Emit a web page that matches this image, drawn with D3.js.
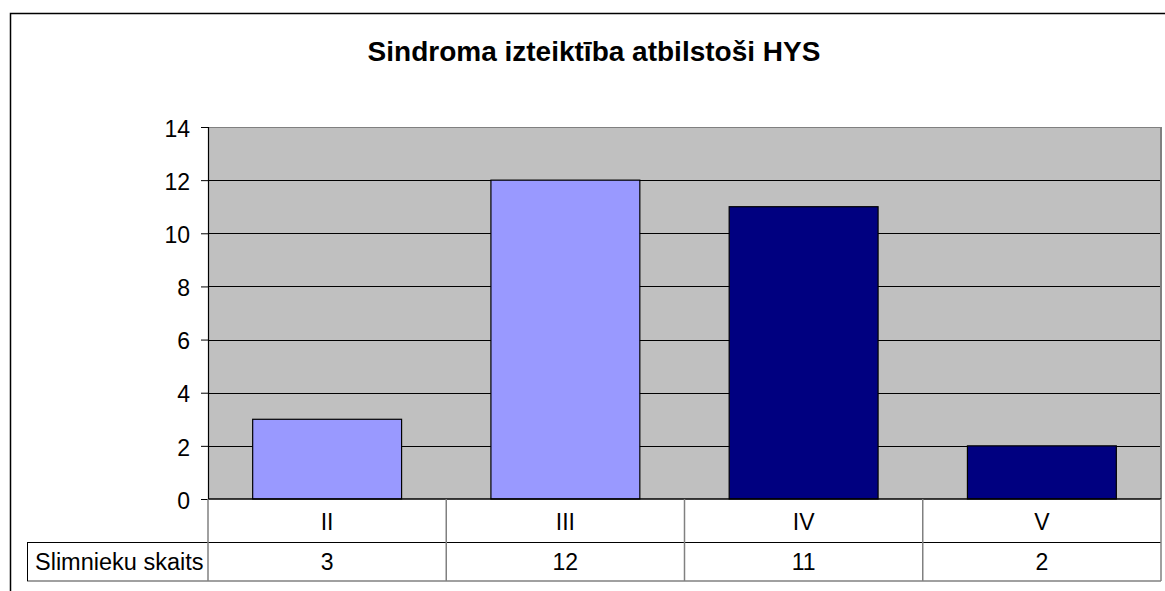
<!DOCTYPE html>
<html>
<head>
<meta charset="utf-8">
<script src="https://cdn.jsdelivr.net/npm/d3@7"></script>
<style>
  body { margin: 0; background: #fff; }
  svg text { font-family: "Liberation Sans", Arial, sans-serif; fill: #000; }
</style>
</head>
<body>
<div id="chart"></div>
<script>
var categories = ["II", "III", "IV", "V"];
var values = [3, 12, 11, 2];
var barColors = ["#9999FF", "#9999FF", "#000080", "#000080"];
var yTicks = [0, 2, 4, 6, 8, 10, 12, 14];
var seriesName = "Slimnieku skaits";
var titleText = "Sindroma izteiktība atbilstoši HYS";

var margin = { top: 127, right: 4, bottom: 92, left: 208 },
    width = 1165 - margin.left - margin.right,
    height = 591 - margin.top - margin.bottom;

var svg = d3.select("#chart").append("svg")
    .attr("width", 1165)
    .attr("height", 591);

// outer chart border (runs off right and bottom edges)
svg.append("rect")
    .attr("x", 10.5)
    .attr("y", 13.5)
    .attr("width", 1200)
    .attr("height", 620)
    .attr("fill", "none")
    .attr("stroke", "#000")
    .attr("stroke-width", 1.5);

svg.append("text")
    .attr("x", 594)
    .attr("y", 61)
    .style("text-anchor", "middle")
    .style("font-size", "28px")
    .style("font-weight", "bold")
    .text(titleText);

var g = svg.append("g")
    .attr("transform", "translate(" + margin.left + "," + margin.top + ")");

var x = d3.scaleBand()
    .domain(categories)
    .range([0, width])
    .paddingInner(0.375)
    .paddingOuter(0.1875);

var cell = d3.scaleBand()
    .domain(categories)
    .range([0, width])
    .padding(0);

var y = d3.scaleLinear()
    .domain([0, 14])
    .range([height, 0]);

// plot background
g.append("rect")
    .attr("width", width)
    .attr("height", height)
    .attr("fill", "#C0C0C0");

// gridlines
g.selectAll(".grid")
    .data(yTicks.filter(function (d) { return d > 0 && d < 14; }))
    .enter().append("line")
    .attr("class", "grid")
    .attr("x1", 0)
    .attr("x2", width)
    .attr("y1", function (d) { return Math.round(y(d)) + 0.5; })
    .attr("y2", function (d) { return Math.round(y(d)) + 0.5; })
    .attr("stroke", "#000")
    .attr("stroke-width", 1);

// plot border top / right
g.append("line")
    .attr("x1", 0).attr("x2", width)
    .attr("y1", 0.5).attr("y2", 0.5)
    .attr("stroke", "#808080");
g.append("line")
    .attr("x1", width).attr("x2", width)
    .attr("y1", 0).attr("y2", height)
    .attr("stroke", "#808080")
    .attr("stroke-width", 2);

// bars
g.selectAll(".bar")
    .data(values)
    .enter().append("rect")
    .attr("class", "bar")
    .attr("x", function (d, i) { return x(categories[i]); })
    .attr("width", x.bandwidth())
    .attr("y", function (d) { return y(d); })
    .attr("height", function (d) { return height - y(d); })
    .attr("fill", function (d, i) { return barColors[i]; })
    .attr("stroke", "#000")
    .attr("stroke-width", 1.2);

// y axis
var yAxis = d3.axisLeft(y)
    .tickValues(yTicks)
    .tickSize(7)
    .tickPadding(11)
    .tickFormat(d3.format("d"));

var yg = g.append("g")
    .attr("class", "y axis")
    .call(yAxis);
yg.select(".domain").attr("stroke", "#000").attr("stroke-width", 1.2);
yg.selectAll(".tick line").attr("stroke", "#000");
yg.selectAll(".tick text")
    .style("font-size", "23px")
    .style("font-family", "'Liberation Sans', Arial, sans-serif")
    .attr("dy", "0.4em");

// data table below the plot
var row1 = height + 43, row2 = height + 82;
var tg = g.append("g").attr("class", "table");

// x-axis baseline
tg.append("line")
    .attr("x1", 0).attr("x2", width)
    .attr("y1", height).attr("y2", height)
    .attr("stroke", "#000").attr("stroke-width", 1.5);

tg.append("line")
    .attr("x1", 27 - margin.left).attr("x2", width)
    .attr("y1", row1 + 0.5).attr("y2", row1 + 0.5)
    .attr("stroke", "#000");
tg.append("line")
    .attr("x1", 27 - margin.left).attr("x2", width)
    .attr("y1", row2).attr("y2", row2)
    .attr("stroke", "#808080").attr("stroke-width", 1.5);
tg.append("line")
    .attr("x1", 27 - margin.left + 0.5).attr("x2", 27 - margin.left + 0.5)
    .attr("y1", row1).attr("y2", row2)
    .attr("stroke", "#000");

var seps = categories.map(function (c) { return cell(c); }).concat([width]);
tg.selectAll(".sep")
    .data(seps)
    .enter().append("line")
    .attr("class", "sep")
    .attr("x1", function (d) { return d; })
    .attr("x2", function (d) { return d; })
    .attr("y1", height)
    .attr("y2", row2)
    .attr("stroke", "#808080")
    .attr("stroke-width", 1.5);

tg.selectAll(".cat")
    .data(categories)
    .enter().append("text")
    .attr("class", "cat")
    .attr("x", function (d) { return cell(d) + cell.bandwidth() / 2; })
    .attr("y", height + 31)
    .style("text-anchor", "middle")
    .style("font-size", "23px")
    .text(function (d) { return d; });

tg.selectAll(".val")
    .data(values)
    .enter().append("text")
    .attr("class", "val")
    .attr("x", function (d, i) { return cell(categories[i]) + cell.bandwidth() / 2; })
    .attr("y", height + 71)
    .style("text-anchor", "middle")
    .style("font-size", "23px")
    .text(function (d) { return d; });

tg.append("text")
    .attr("x", 35 - margin.left)
    .attr("y", height + 71)
    .style("font-size", "23.5px")
    .text(seriesName);
</script>
</body>
</html>
